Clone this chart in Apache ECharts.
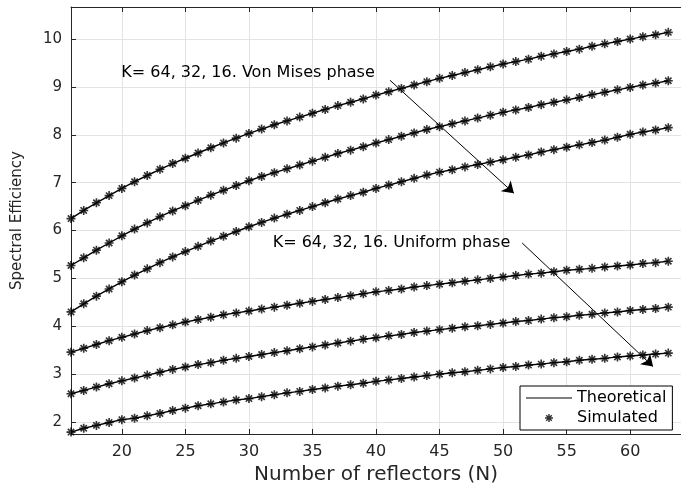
<!DOCTYPE html>
<html>
<head>
<meta charset="utf-8">
<script src="https://cdn.jsdelivr.net/npm/echarts@6/dist/echarts.min.js"></script>
<style>html,body{margin:0;padding:0;background:#fff}#main{width:681px;height:490px}</style>
</head>
<body>
<div id="main"></div>
<script>
// Number of reflectors (x values)
const N = [16,17,18,19,20,21,22,23,24,25,26,27,28,29,30,31,32,33,34,35,36,37,38,39,40,41,42,43,44,45,46,47,48,49,50,51,52,53,54,55,56,57,58,59,60,61,62,63];
// Von Mises phase, K = 64, 32, 16
const vm64 = [6.25,6.42,6.58,6.73,6.88,7.02,7.15,7.28,7.40,7.51,7.62,7.73,7.83,7.93,8.03,8.12,8.21,8.29,8.37,8.45,8.53,8.61,8.68,8.75,8.83,8.90,8.97,9.04,9.11,9.18,9.24,9.30,9.36,9.42,9.48,9.53,9.58,9.64,9.69,9.74,9.79,9.85,9.90,9.95,10.00,10.05,10.09,10.14];
const vm32 = [5.27,5.43,5.59,5.74,5.89,6.03,6.16,6.29,6.41,6.52,6.63,6.74,6.84,6.94,7.04,7.13,7.21,7.29,7.37,7.45,7.53,7.61,7.68,7.75,7.83,7.90,7.97,8.04,8.11,8.17,8.23,8.29,8.35,8.41,8.47,8.52,8.57,8.63,8.68,8.73,8.78,8.84,8.89,8.94,8.99,9.04,9.08,9.13];
const vm16 = [4.30,4.47,4.63,4.78,4.93,5.07,5.20,5.33,5.45,5.56,5.67,5.78,5.88,5.98,6.08,6.17,6.26,6.34,6.42,6.50,6.58,6.66,6.73,6.80,6.88,6.95,7.02,7.09,7.16,7.22,7.27,7.33,7.38,7.43,7.48,7.53,7.58,7.64,7.69,7.74,7.79,7.84,7.89,7.95,8.01,8.06,8.10,8.15];
// Uniform phase, K = 64, 32, 16
const un64 = [3.46,3.54,3.62,3.70,3.77,3.84,3.91,3.97,4.03,4.09,4.14,4.19,4.24,4.28,4.32,4.36,4.40,4.44,4.48,4.52,4.56,4.60,4.64,4.68,4.72,4.75,4.78,4.82,4.85,4.88,4.91,4.94,4.97,5.00,5.03,5.06,5.09,5.11,5.14,5.17,5.19,5.21,5.24,5.26,5.28,5.31,5.33,5.36];
const un32 = [2.59,2.66,2.73,2.80,2.86,2.92,2.98,3.04,3.10,3.15,3.20,3.24,3.29,3.33,3.37,3.41,3.45,3.49,3.53,3.57,3.61,3.65,3.69,3.73,3.76,3.80,3.83,3.87,3.90,3.93,3.96,3.99,4.01,4.04,4.07,4.10,4.12,4.15,4.18,4.20,4.23,4.25,4.28,4.30,4.33,4.35,4.37,4.40];
const un16 = [1.79,1.87,1.93,1.99,2.05,2.08,2.13,2.18,2.24,2.29,2.34,2.38,2.42,2.46,2.49,2.53,2.57,2.61,2.64,2.68,2.71,2.75,2.78,2.81,2.85,2.88,2.91,2.94,2.97,3.00,3.03,3.05,3.08,3.11,3.14,3.16,3.19,3.21,3.24,3.26,3.29,3.31,3.33,3.36,3.38,3.40,3.42,3.44];
// Tick values
const xTicks = [20,25,30,35,40,45,50,55,60];
const yTicks = [2,3,4,5,6,7,8,9,10];
const allSeries = [vm64, vm32, vm16, un64, un32, un16];

const FONT = 'DejaVu Sans';
const AX = '#262626';
// asterisk marker: + and x overlaid (thick arms)
const STAR = 'path://M41 0L59 0L59 100L41 100Z M0 41L100 41L100 59L0 59Z M21.36 8.64L91.36 78.64L78.64 91.36L8.64 21.36Z M78.64 8.64L91.36 21.36L21.36 91.36L8.64 78.64Z';
const LINEICON = 'path://M0 0L100 0L100 2.6L0 2.6Z';

const series = [];
allSeries.forEach(function (arr, k) {
  const d = N.map(function (n, i) { return [n, arr[i]]; });
  series.push({
    name: 'Theoretical', type: 'line', data: d, symbol: 'none',
    lineStyle: { color: '#000', width: 1.4 }, itemStyle: { color: '#000' },
    animation: false, silent: true, z: 3,
    markLine: k === 0 ? {
      silent: true, symbol: ['none', 'arrow'], symbolSize: 11,
      label: { show: false }, lineStyle: { color: '#000', width: 1, type: 'solid' },
      data: [
        [{ coord: [41.1, 9.14] }, { coord: [50.85, 6.78] }],
        [{ coord: [51.5, 5.74] }, { coord: [61.8, 3.16] }]
      ]
    } : undefined
  });
});
allSeries.forEach(function (arr) {
  const d = N.map(function (n, i) { return [n, arr[i]]; });
  series.push({
    name: 'Simulated', type: 'scatter', data: d, symbol: STAR, symbolSize: 9,
    itemStyle: { color: '#000' }, animation: false, silent: true, z: 4
  });
});

const option = {
  backgroundColor: '#fff',
  animation: false,
  grid: { left: 71, right: -5, top: 7, bottom: 52 },
  xAxis: [{
    type: 'value', min: 16, max: 64, position: 'bottom',
    name: 'Number of reflectors (N)', nameLocation: 'middle', nameGap: 31,
    nameTextStyle: { fontFamily: FONT, fontSize: 20, color: AX },
    axisLine: { show: true, onZero: false, lineStyle: { color: AX, width: 1 } },
    axisTick: { show: true, inside: true, length: 5, customValues: xTicks, lineStyle: { color: AX } },
    axisLabel: { customValues: xTicks, fontFamily: FONT, fontSize: 16, color: AX, margin: 10 },
    splitLine: { show: true, lineStyle: { color: '#e3e3e3', width: 1 } }
  }, {
    type: 'value', min: 16, max: 64, position: 'top',
    axisLine: { show: true, onZero: false, lineStyle: { color: AX, width: 1 } },
    axisTick: { show: true, inside: true, length: 5, customValues: xTicks, lineStyle: { color: AX } },
    axisLabel: { show: false }, splitLine: { show: false }
  }],
  yAxis: [{
    type: 'value', min: 1.75, max: 10.67,
    name: 'Spectral Efficiency', nameLocation: 'middle', nameGap: 46,
    nameTextStyle: { fontFamily: FONT, fontSize: 15, color: AX },
    axisLine: { show: true, onZero: false, lineStyle: { color: AX, width: 1 } },
    axisTick: { show: true, inside: true, length: 5, customValues: yTicks, lineStyle: { color: AX } },
    axisLabel: { customValues: yTicks, fontFamily: FONT, fontSize: 15, color: AX, margin: 9 },
    splitLine: { show: true, lineStyle: { color: '#e3e3e3', width: 1 } }
  }],
  legend: {
    data: [{ name: 'Theoretical', icon: LINEICON }, { name: 'Simulated' }], orient: 'vertical',
    left: 520, top: 386, padding: [4, 6, 4, 6],
    itemWidth: 46, itemHeight: 8, itemGap: 4,
    backgroundColor: '#fff', borderColor: '#000', borderWidth: 1, borderRadius: 0,
    textStyle: { fontFamily: FONT, fontSize: 16, color: '#000', lineHeight: 16 },
    selectedMode: false
  },
  series: series
};

const chart = echarts.init(document.getElementById('main'), null, { renderer: 'canvas' });
chart.setOption(option);

function px(x, y) { return chart.convertToPixel({ xAxisIndex: 0, yAxisIndex: 0 }, [x, y]); }
const t1 = px(19.96, 9.30);
const t2 = px(31.87, 5.74);
chart.setOption({
  graphic: [
    { type: 'text', x: t1[0], y: t1[1], style: { text: 'K= 64, 32, 16. Von Mises phase', font: '16px "DejaVu Sans"', fill: '#000', verticalAlign: 'middle', align: 'left' }, z: 10 },
    { type: 'text', x: t2[0], y: t2[1], style: { text: 'K= 64, 32, 16. Uniform phase', font: '16px "DejaVu Sans"', fill: '#000', verticalAlign: 'middle', align: 'left' }, z: 10 }
  ]
});
</script>
</body>
</html>
